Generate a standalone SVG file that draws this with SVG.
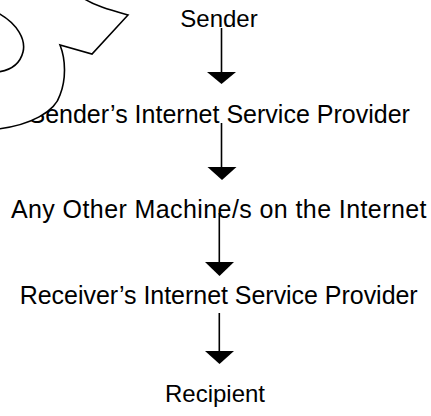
<svg xmlns="http://www.w3.org/2000/svg" width="431" height="416" viewBox="0 0 431 416">
<style>
.t{font-family:"Liberation Sans",Arial,sans-serif;font-size:24px;fill:#000;text-anchor:middle}
.w{font-size:25px}
.ln{stroke:#000;stroke-width:1.6;fill:none}
.hd{fill:#000;stroke:none}
</style>
<rect width="431" height="416" fill="#fff"/>
<g id="sender"><text class="t" x="219" y="26.7">Sender</text></g>
<g id="sender-isp"><text class="t w" x="219.2" y="122.7" textLength="381.5">Sender’s Internet Service Provider</text></g>
<g id="other-machines"><text class="t w" x="218.7" y="218" textLength="415.5">Any Other Machine/s on the Internet</text></g>
<g id="receiver-isp"><text class="t w" x="218.7" y="304" textLength="398">Receiver’s Internet Service Provider</text></g>
<g id="recipient"><text class="t" x="215" y="401.7">Recipient</text></g>
<g id="connectors">
<line class="ln" x1="221.5" y1="28" x2="221.5" y2="73"/>
<polygon class="hd" points="207,72 236,72 221.5,84"/>
<line class="ln" x1="221.5" y1="123" x2="221.5" y2="168"/>
<polygon class="hd" points="207.5,167 236.5,167 222,180"/>
<line class="ln" x1="219.3" y1="213" x2="219.3" y2="263"/>
<polygon class="hd" points="205,262 234,262 219.5,276"/>
<line class="ln" x1="219.3" y1="313" x2="219.3" y2="352"/>
<polygon class="hd" points="205,351 234,351 219.5,364"/>
</g>
<g id="curved-arrow-shape">
<path fill="#fff" stroke="none" d="M-2,13 C18,24 26,40 23,52 C20,64 12,70 -2,72 L-2,129 C30,125 55,112 60,95 C66,80 66,60 60,45 L92,54 L128,15 C110,10 95,6 83,-2 L-2,-2 Z"/>
<path class="ln" d="M-2,13 C18,24 26,40 23,52 C20,64 12,70 -2,72"/>
<path class="ln" d="M-2,129 C30,125 55,112 60,95 C66,80 66,60 60,45 L92,54 L128,15 C110,10 95,6 83,-2"/>
</g>
</svg>
